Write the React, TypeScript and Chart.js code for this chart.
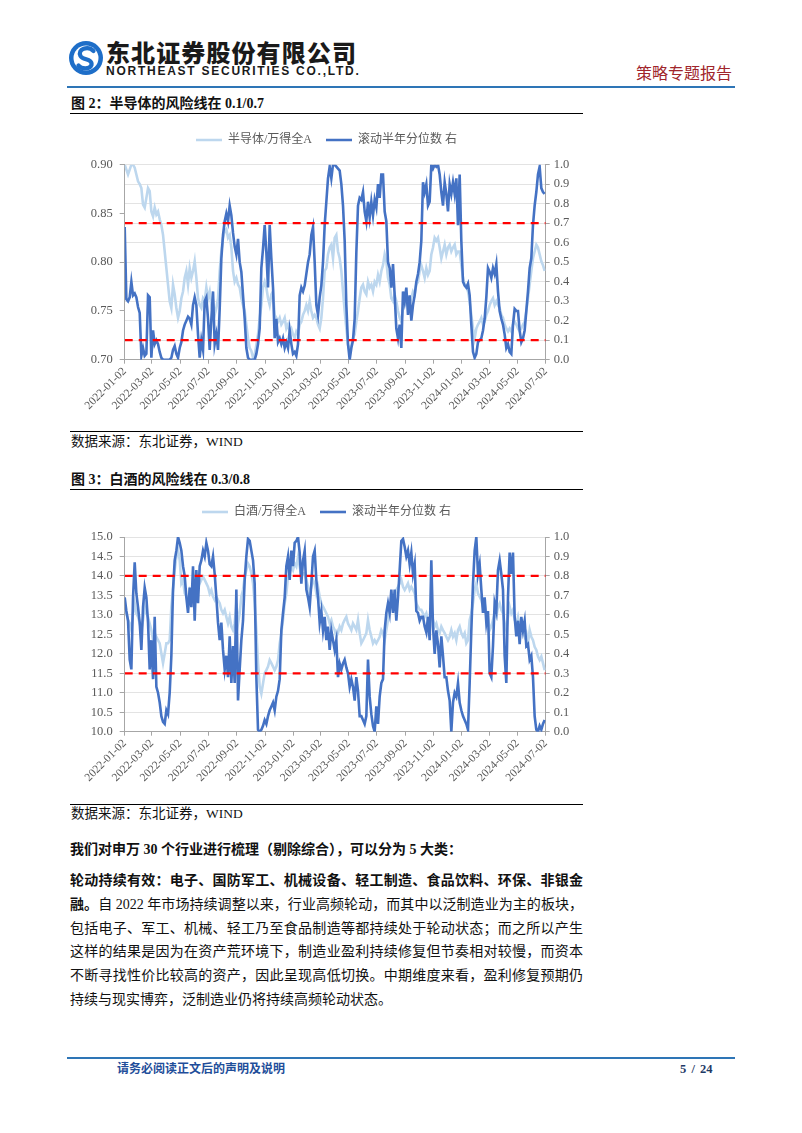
import React, { useEffect, useRef } from 'react';
import { Chart, registerables } from 'chart.js';

Chart.register(...registerables);

// ---------- data ----------
const AXIS_START = '2022-01-02';
const AXIS_END = '2024-07-02';
const TICK_DATES = [
  '2022-01-02', '2022-03-02', '2022-05-02', '2022-07-02', '2022-09-02', '2022-11-02',
  '2023-01-02', '2023-03-02', '2023-05-02', '2023-07-02', '2023-09-02', '2023-11-02',
  '2024-01-02', '2024-03-02', '2024-05-02', '2024-07-02',
];
// one reading every ~3.61 calendar days, starting at the first trading day
const SAMPLE_STEP_DAYS = 3.61;

const SEMI_LABEL = '半导体/万得全A';
const LIQUOR_LABEL = '白酒/万得全A';
const PCT_LABEL = '滚动半年分位数 右';

const semiRatio = [
  0.90, 0.895, 0.89, 0.895, 0.90, 0.90, 0.897, 0.89, 0.883, 0.88,
  0.876, 0.859, 0.856, 0.866, 0.876, 0.873, 0.852, 0.847, 0.856, 0.849,
  0.852, 0.844, 0.838, 0.828, 0.811, 0.794, 0.777, 0.760, 0.753, 0.777,
  0.767, 0.753, 0.743, 0.750, 0.763, 0.770, 0.784, 0.791, 0.777, 0.794,
  0.784, 0.791, 0.801, 0.784, 0.763, 0.756, 0.753, 0.763, 0.760, 0.774,
  0.763, 0.770, 0.756, 0.760, 0.746, 0.753, 0.763, 0.791, 0.811, 0.825,
  0.832, 0.834, 0.825, 0.828, 0.815, 0.791, 0.780, 0.784, 0.777, 0.774,
  0.763, 0.756, 0.750, 0.736, 0.722, 0.712, 0.709, 0.702, 0.705, 0.715,
  0.726, 0.743, 0.756, 0.774, 0.780, 0.774, 0.763, 0.756, 0.767, 0.770,
  0.746, 0.743, 0.739, 0.743, 0.736, 0.739, 0.743, 0.732, 0.736, 0.729,
  0.732, 0.726, 0.722, 0.729, 0.726, 0.736, 0.739, 0.746, 0.750, 0.756,
  0.750, 0.760, 0.750, 0.743, 0.746, 0.743, 0.736, 0.732, 0.743, 0.763,
  0.791, 0.794, 0.808, 0.815, 0.818, 0.804, 0.825, 0.828, 0.811, 0.804,
  0.791, 0.770, 0.750, 0.732, 0.715, 0.709, 0.715, 0.722, 0.726, 0.739,
  0.750, 0.763, 0.774, 0.777, 0.770, 0.767, 0.780, 0.774, 0.777, 0.770,
  0.780, 0.777, 0.787, 0.780, 0.791, 0.797, 0.808, 0.801, 0.784, 0.777,
  0.763, 0.760, 0.767, 0.760, 0.750, 0.743, 0.739, 0.753, 0.756, 0.763,
  0.760, 0.756, 0.763, 0.770, 0.767, 0.777, 0.780, 0.791, 0.797, 0.791,
  0.784, 0.794, 0.787, 0.791, 0.808, 0.815, 0.825, 0.822, 0.825, 0.815,
  0.804, 0.811, 0.818, 0.808, 0.815, 0.818, 0.811, 0.815, 0.818, 0.808,
  0.811, 0.811, 0.797, 0.784, 0.777, 0.774, 0.770, 0.760, 0.746, 0.732,
  0.722, 0.732, 0.736, 0.739, 0.743, 0.736, 0.739, 0.746, 0.750, 0.756,
  0.760, 0.763, 0.756, 0.760, 0.756, 0.753, 0.746, 0.743, 0.736, 0.732,
  0.729, 0.732, 0.729, 0.736, 0.739, 0.736, 0.732, 0.729, 0.732, 0.736,
  0.739, 0.750, 0.763, 0.777, 0.791, 0.804, 0.811, 0.818, 0.815, 0.808,
  0.801, 0.797, 0.791,
];

const semiPct = [
  0.68, 0.31, 0.30, 0.32, 0.40, 0.33, 0.34, 0.32, 0.27, 0.24,
  0.02, 0.06, 0.02, 0.03, 0.33, 0.32, 0.01, 0.15, 0.08, 0.10,
  0.08, 0.04, 0.01, 0, 0, 0, 0, 0, 0.01, 0.05,
  0.07, 0.03, 0.01, 0.06, 0.09, 0.15, 0.18, 0.20, 0.22, 0.21,
  0.18, 0.28, 0.32, 0.28, 0.13, 0.01, 0.10, 0.05, 0.30, 0.32,
  0.21, 0.05, 0.21, 0.35, 0.08, 0.13, 0.05, 0.26, 0.52, 0.64,
  0.71, 0.75, 0.71, 0.79, 0.74, 0.65, 0.58, 0.54, 0.62, 0.50,
  0.45, 0.33, 0.21, 0.06, 0.01, 0, 0, 0, 0, 0.03,
  0.08, 0.16, 0.47, 0.57, 0.69, 0.55, 0.37, 0.69, 0.52, 0.37,
  0.11, 0.21, 0.09, 0.11, 0.08, 0.11, 0.06, 0.09, 0.06, 0.15,
  0.08, 0.03, 0.04, 0.02, 0.08, 0.33, 0.37, 0.35, 0.38, 0.44,
  0.50, 0.54, 0.64, 0.68, 0.50, 0.28, 0.23, 0.32, 0.38, 0.50,
  0.69, 0.81, 0.93, 0.99, 0.93, 1.0, 1.0, 0.99, 0.98, 0.97,
  0.90, 0.79, 0.61, 0.28, 0.08, 0, 0.06, 0.10, 0.21, 0.55,
  0.79, 0.83, 0.82, 0.86, 0.76, 0.71, 0.81, 0.73, 0.81, 0.74,
  0.82, 0.78, 0.90, 0.83, 0.95, 0.95, 0.76, 0.71, 0.50, 0.47,
  0.37, 0.49, 0.33, 0.16, 0.11, 0.18, 0.06, 0.35, 0.30, 0.37,
  0.23, 0.33, 0.20, 0.28, 0.33, 0.40, 0.44, 0.50, 0.61, 0.91,
  0.86, 0.90, 0.79, 0.81, 1.0, 0.98, 1.0, 0.99, 1.0, 0.95,
  0.86, 0.79, 0.91, 0.85, 0.76, 0.90, 0.85, 0.91, 0.85, 0.93,
  0.69, 0.95, 0.61, 0.40, 0.38, 0.37, 0.39, 0.33, 0.18, 0.04,
  0.01, 0.03, 0.09, 0.10, 0.11, 0.15, 0.21, 0.32, 0.47, 0.45,
  0.42, 0.47, 0.44, 0.49, 0.35, 0.25, 0.21, 0.18, 0.13, 0.06,
  0.08, 0.04, 0.03, 0.18, 0.26, 0.25, 0.25, 0.15, 0.09, 0.11,
  0.15, 0.25, 0.35, 0.47, 0.52, 0.69, 0.79, 0.86, 0.95, 0.99,
  0.88, 0.86, 0.85,
];

const liquorRatio = [
  13.13, 13.04, 12.87, 12.78, 12.61, 13.04, 13.30, 13.04, 12.95, 12.78,
  12.61, 12.87, 13.21, 13.04, 12.95, 12.78, 12.61, 12.35, 12.53, 12.44,
  12.35, 12.27, 12.01, 11.76, 12.01, 12.27, 12.27, 12.35, 13.21, 13.64,
  14.15, 14.49, 14.67, 14.41, 13.81, 13.90, 13.55, 13.47, 13.30, 13.64,
  13.55, 13.72, 13.47, 13.64, 13.72, 13.81, 13.90, 13.98, 13.90, 13.81,
  13.72, 13.55, 13.64, 13.47, 13.38, 13.47, 13.38, 13.30, 13.13, 13.04,
  13.13, 12.95, 12.78, 12.95, 12.70, 12.61, 12.78, 13.30, 12.78, 13.04,
  13.47, 13.64, 13.98, 14.15, 14.32, 14.24, 14.07, 13.81, 13.30, 12.61,
  11.76, 11.16, 10.98, 11.24, 11.50, 11.58, 11.67, 11.84, 11.76, 11.67,
  11.58, 11.67, 11.84, 12.27, 12.53, 12.87, 13.30, 13.55, 13.98, 14.07,
  14.24, 14.15, 14.32, 14.24, 14.49, 14.24, 13.98, 14.07, 14.07, 13.90,
  13.72, 13.55, 13.72, 13.90, 13.81, 13.55, 13.72, 13.47, 13.30, 13.21,
  13.13, 13.04, 12.95, 12.78, 12.87, 12.70, 12.61, 12.44, 12.53, 12.70,
  12.61, 12.78, 12.87, 12.95, 12.78, 12.70, 12.61, 12.78, 12.70, 12.61,
  12.87, 12.53, 12.27, 12.35, 12.44, 12.53, 12.87, 12.61, 12.44, 12.27,
  12.35, 12.27, 12.35, 12.44, 12.61, 12.53, 12.35, 12.61, 12.87, 13.21,
  13.30, 13.38, 13.47, 13.64, 13.72, 13.81, 13.90, 13.72, 13.64, 13.72,
  13.81, 13.64, 13.72, 13.64, 13.55, 13.30, 13.21, 13.13, 13.13, 13.04,
  12.95, 13.04, 12.87, 12.78, 13.04, 12.87, 12.70, 12.78, 12.61, 12.53,
  12.70, 12.61, 12.53, 12.44, 12.35, 12.44, 12.61, 12.44, 12.53, 12.35,
  12.61, 12.70, 12.53, 12.44, 12.53, 12.27, 12.35, 12.87, 13.04, 13.30,
  13.64, 13.81, 13.55, 13.47, 13.38, 13.21, 13.30, 13.04, 12.95, 12.61,
  12.70, 12.87, 13.04, 12.95, 13.21, 13.30, 13.13, 13.04, 12.78, 12.61,
  12.95, 13.21, 13.04, 13.13, 12.87, 12.78, 12.95, 12.70, 12.78, 12.61,
  12.44, 12.53, 12.27, 12.61, 12.44, 12.35, 12.18, 12.10, 11.93, 11.84,
  11.93, 11.76, 11.58,
];

const liquorPct = [
  0.69, 0.62, 0.57, 0.37, 0.32, 0.69, 0.87, 0.71, 0.64, 0.56,
  0.42, 0.64, 0.74, 0.69, 0.56, 0.32, 0.47, 0.27, 0.59, 0.23,
  0.20, 0.15, 0.08, 0.05, 0.04, 0.11, 0.09, 0.20, 0.39, 0.73,
  0.88, 0.93, 1.0, 0.97, 0.93, 0.85, 0.80, 0.69, 0.61, 0.74,
  0.64, 0.85, 0.57, 0.83, 0.66, 0.85, 0.88, 0.93, 0.90, 0.97,
  0.93, 0.86, 0.85, 0.90, 0.81, 0.69, 0.56, 0.47, 0.56, 0.42,
  0.32, 0.39, 0.28, 0.49, 0.25, 0.44, 0.25, 0.73, 0.16, 0.32,
  0.47, 0.57, 0.78, 0.90, 0.99, 0.98, 0.93, 0.88, 0.76, 0.28,
  0.01, 0, 0.01, 0.03, 0.06, 0.04, 0.08, 0.11, 0.13, 0.15,
  0.11, 0.18, 0.21, 0.27, 0.52, 0.61, 0.69, 0.85, 0.90, 0.78,
  0.93, 0.85, 0.97, 0.98, 1.0, 0.92, 0.76, 0.88, 0.93, 0.73,
  0.69, 0.64, 0.76, 0.90, 0.93, 0.78, 0.69, 0.56, 0.62, 0.52,
  0.59, 0.47, 0.54, 0.42, 0.52, 0.47, 0.42, 0.47, 0.28, 0.35,
  0.32, 0.35, 0.37, 0.33, 0.30, 0.23, 0.27, 0.23, 0.16, 0.28,
  0.21, 0.08, 0.08, 0.06, 0.04, 0.08, 0.37, 0.18, 0.09, 0.03,
  0, 0.13, 0.04, 0.18, 0.25, 0.27, 0.52, 0.61, 0.66, 0.61,
  0.73, 0.61, 0.73, 0.57, 0.69, 0.83, 0.98, 0.99, 0.95, 0.90,
  0.93, 0.86, 0.92, 0.81, 0.86, 0.62, 0.61, 0.57, 0.59, 0.59,
  0.54, 0.51, 0.59, 0.47, 0.88, 0.54, 0.40, 0.52, 0.45, 0.33,
  0.49, 0.39, 0.28, 0.28, 0.21, 0.16, 0, 0.15, 0.20, 0.18,
  0.25, 0.15, 0.11, 0.08, 0.06, 0.04, 0.01, 0.25, 0.52, 0.76,
  0.93, 1.0, 0.81, 0.86, 0.73, 0.61, 0.69, 0.56, 0.62, 0.30,
  0.28, 0.44, 0.66, 0.62, 0.83, 0.88, 0.81, 0.73, 0.39, 0.25,
  0.69, 0.92, 0.81, 0.92, 0.59, 0.49, 0.57, 0.45, 0.59, 0.52,
  0.57, 0.44, 0.45, 0.37, 0.39, 0.28, 0.08, 0.01, 0, 0.03,
  0.01, 0.04, 0.06,
];

const SEMI_RISK_LINES = [0.1, 0.7];
const LIQUOR_RISK_LINES = [0.3, 0.8];

// ---------- helpers ----------
const SERIF = '"Liberation Serif", "Noto Sans CJK SC", serif';
const AXIS_GRAY = '#A6A6A6';
const TEXT_GRAY = '#595959';

function dayOffset(date: string): number {
  const [y, m, d] = date.split('-').map(Number);
  const [y0, m0, d0] = AXIS_START.split('-').map(Number);
  return Math.round((Date.UTC(y, m - 1, d) - Date.UTC(y0, m0 - 1, d0)) / 86400000);
}

const TICK_DAYS = TICK_DATES.map(dayOffset);
const AXIS_DAYS = dayOffset(AXIS_END);

interface ChartSpec {
  ratio: number[];
  pct: number[];
  ratioLabel: string;
  risk: number[];
  leftMin: number;
  leftMax: number;
  leftStep: number;
  leftDecimals: number;
  legendExtra: number;
}

function buildConfig(spec: ChartSpec): any {
  const toPoints = (arr: number[]) => arr.map((y, i) => ({ x: i * SAMPLE_STEP_DAYS, y }));
  const riskSets = spec.risk.map((v) => ({
    label: '_risk',
    data: [{ x: 0, y: v }, { x: AXIS_DAYS, y: v }],
    yAxisID: 'y1',
    borderColor: '#FF0000',
    borderWidth: 2.2,
    borderDash: [8, 6],
    pointRadius: 0,
    order: 1,
  }));
  return {
    type: 'line',
    data: {
      datasets: [
        {
          label: spec.ratioLabel,
          data: toPoints(spec.ratio),
          yAxisID: 'y',
          borderColor: '#BDD7EE',
          backgroundColor: '#BDD7EE',
          borderWidth: 2.6,
          pointRadius: 0,
          tension: 0,
          order: 3,
        },
        {
          label: PCT_LABEL,
          data: toPoints(spec.pct),
          yAxisID: 'y1',
          borderColor: '#4472C4',
          backgroundColor: '#4472C4',
          borderWidth: 2.6,
          pointRadius: 0,
          tension: 0,
          order: 2,
        },
        ...riskSets,
      ],
    },
    options: {
      responsive: false,
      maintainAspectRatio: false,
      animation: false,
      devicePixelRatio: 1,
      layout: { padding: 0 },
      font: { family: SERIF },
      plugins: {
        tooltip: { enabled: false },
        legend: {
          display: true,
          position: 'top',
          labels: {
            usePointStyle: true,
            pointStyle: 'line',
            pointStyleWidth: 26,
            padding: 14,
            color: TEXT_GRAY,
            font: { family: SERIF, size: 12 },
            filter: (item: any) => item.datasetIndex < 2,
            sort: (a: any, b: any) => a.datasetIndex - b.datasetIndex,
          },
        },
      },
      scales: {
        x: {
          type: 'linear',
          min: 0,
          max: AXIS_DAYS,
          afterBuildTicks: (axis: any) => {
            axis.ticks = TICK_DAYS.map((v) => ({ value: v }));
          },
          afterFit: (axis: any) => {
            axis.height = 68.3;
          },
          ticks: {
            autoSkip: false,
            minRotation: 45,
            maxRotation: 45,
            padding: 1,
            color: TEXT_GRAY,
            font: { family: SERIF, size: 11.5 },
            callback: (v: number) => {
              const idx = TICK_DAYS.indexOf(Math.round(v));
              return idx >= 0 ? TICK_DATES[idx] : '';
            },
          },
          grid: { drawOnChartArea: false, drawTicks: true, tickLength: 4, tickColor: AXIS_GRAY },
          border: { display: true, color: AXIS_GRAY, width: 1 },
        },
        y: {
          position: 'left',
          min: spec.leftMin,
          max: spec.leftMax,
          afterFit: (axis: any) => {
            axis.width = 64.7;
          },
          ticks: {
            stepSize: spec.leftStep,
            padding: 7,
            color: TEXT_GRAY,
            font: { family: SERIF, size: 12.5 },
            callback: (v: number) => Number(v).toFixed(spec.leftDecimals),
          },
          grid: { drawOnChartArea: false, drawTicks: true, tickLength: 5, tickColor: AXIS_GRAY },
          border: { display: true, color: AXIS_GRAY, width: 1 },
        },
        y1: {
          position: 'right',
          min: 0,
          max: 1,
          afterFit: (axis: any) => {
            axis.width = 47.3;
          },
          ticks: {
            stepSize: 0.1,
            padding: 4,
            color: TEXT_GRAY,
            font: { family: SERIF, size: 12.5 },
            callback: (v: number) => Number(v).toFixed(1),
          },
          grid: {
            drawOnChartArea: true,
            color: '#E3E3E3',
            lineWidth: 1,
            drawTicks: true,
            tickLength: 4,
            tickColor: AXIS_GRAY,
          },
          border: { display: true, color: AXIS_GRAY, width: 1 },
        },
      },
    },
    plugins: [
      {
        id: 'legendGap',
        beforeInit(chart: any) {
          const legend = chart.legend;
          if (!legend || legend.__gapPatched) return;
          const origFit = legend.fit;
          legend.fit = function () {
            origFit.call(this);
            this.height += spec.legendExtra;
          };
          legend.__gapPatched = true;
        },
      },
    ],
  };
}

function DualAxisChart(props: { spec: ChartSpec; left: number; top: number; width: number; height: number }) {
  const ref = useRef<HTMLCanvasElement | null>(null);
  useEffect(() => {
    if (!ref.current) return;
    const chart = new Chart(ref.current, buildConfig(props.spec));
    return () => chart.destroy();
  }, []);
  return (
    <canvas
      ref={ref}
      width={props.width}
      height={props.height}
      style={{ position: 'absolute', left: props.left, top: props.top, width: props.width, height: props.height }}
    />
  );
}

const semiSpec: ChartSpec = {
  ratio: semiRatio,
  pct: semiPct,
  ratioLabel: SEMI_LABEL,
  risk: SEMI_RISK_LINES,
  leftMin: 0.7,
  leftMax: 0.9,
  leftStep: 0.05,
  leftDecimals: 2,
  legendExtra: 8.7,
};

const liquorSpec: ChartSpec = {
  ratio: liquorRatio,
  pct: liquorPct,
  ratioLabel: LIQUOR_LABEL,
  risk: LIQUOR_RISK_LINES,
  leftMin: 10,
  leftMax: 15,
  leftStep: 0.5,
  leftDecimals: 1,
  legendExtra: 9,
};

// ---------- page ----------
const abs = (left: number, top: number, extra: React.CSSProperties = {}): React.CSSProperties => ({
  position: 'absolute',
  left,
  top,
  whiteSpace: 'nowrap',
  ...extra,
});

const bodyFont: React.CSSProperties = { fontFamily: SERIF, fontSize: 14, color: '#111', lineHeight: '18px' };

const PARA_LINES: { bold?: string; text?: string; last?: boolean }[] = [
  { bold: '轮动持续有效：电子、国防军工、机械设备、轻工制造、食品饮料、环保、非银金' },
  { bold: '融。', text: '自 2022 年市场持续调整以来，行业高频轮动，而其中以泛制造业为主的板块，' },
  { text: '包括电子、军工、机械、轻工乃至食品制造等都持续处于轮动状态；而之所以产生' },
  { text: '这样的结果是因为在资产荒环境下，制造业盈利持续修复但节奏相对较慢，而资本' },
  { text: '不断寻找性价比较高的资产，因此呈现高低切换。中期维度来看，盈利修复预期仍' },
  { text: '持续与现实博弈，泛制造业仍将持续高频轮动状态。', last: true },
];

export default function App() {
  return (
    <div style={{ position: 'absolute', left: 0, top: 0, width: 802, height: 1133, background: '#fff', overflow: 'hidden' }}>
      {/* header */}
      <svg style={{ position: 'absolute', left: 68, top: 40 }} width="36" height="36" viewBox="0 0 36 36">
        <circle cx="18" cy="18" r="17" fill="#1E6EC8" />
        <circle cx="18" cy="18" r="12.5" fill="#ffffff" />
        <path d="M25.5 11 C 20 5.5, 9 9, 12.5 16 C 15 20.5, 24.5 18.5, 23.5 25 C 21.5 30, 13 29, 10.5 25.5" stroke="#1E6EC8" strokeWidth="4.2" fill="none" strokeLinecap="round" />
      </svg>
      <div style={abs(106, 38, { fontFamily: '"Noto Sans CJK SC", sans-serif', fontWeight: 900, fontSize: 24, lineHeight: '28px', letterSpacing: 1.1, color: '#1a1a1a' })}>
        东北证券股份有限公司
      </div>
      <div style={abs(106, 64, { fontFamily: '"Liberation Sans", Arial, sans-serif', fontWeight: 700, fontSize: 12, lineHeight: '14px', letterSpacing: 1.75, color: '#1a1a1a' })}>
        NORTHEAST SECURITIES CO.,LTD.
      </div>
      <div style={abs(636, 62, { fontFamily: '"Noto Sans CJK SC", sans-serif', fontSize: 16, lineHeight: '20px', color: '#A0252B' })}>
        策略专题报告
      </div>
      <div style={{ position: 'absolute', left: 67, top: 86, width: 668, height: 1.5, background: '#2E75B6' }} />

      {/* figure 2 */}
      <div style={abs(71, 95, { ...bodyFont, fontWeight: 700 })}>图 2：半导体的风险线在 0.1/0.7</div>
      <div style={{ position: 'absolute', left: 70, top: 113, width: 513, height: 1, background: '#000' }} />
      <DualAxisChart spec={semiSpec} left={60} top={120} width={533} height={308} />
      <div style={{ position: 'absolute', left: 70, top: 431, width: 513, height: 1, background: '#000' }} />
      <div style={abs(71, 433, { ...bodyFont, fontSize: 13.5 })}>数据来源：东北证券，WIND</div>

      {/* figure 3 */}
      <div style={abs(71, 471, { ...bodyFont, fontWeight: 700 })}>图 3：白酒的风险线在 0.3/0.8</div>
      <div style={{ position: 'absolute', left: 70, top: 489, width: 513, height: 1, background: '#000' }} />
      <DualAxisChart spec={liquorSpec} left={60} top={492} width={533} height={308} />
      <div style={{ position: 'absolute', left: 70, top: 804, width: 513, height: 1, background: '#000' }} />
      <div style={abs(71, 805, { ...bodyFont, fontSize: 13.5 })}>数据来源：东北证券，WIND</div>

      {/* text */}
      <div style={abs(70, 841, { ...bodyFont, fontWeight: 700 })}>
        我们对申万 30 个行业进行梳理（剔除综合），可以分为 5 大类：
      </div>
      {PARA_LINES.map((ln, i) => (
        <div
          key={i}
          style={{
            ...bodyFont,
            position: 'absolute',
            left: 70,
            top: 872 + i * 23.8,
            width: 513,
            textAlign: ln.last ? 'left' : 'justify',
            textAlignLast: ln.last ? 'left' : 'justify',
            whiteSpace: 'nowrap',
          }}
        >
          {ln.bold ? <b>{ln.bold}</b> : null}
          {ln.text ?? null}
        </div>
      ))}

      {/* footer */}
      <div style={{ position: 'absolute', left: 67, top: 1057, width: 668, height: 1.5, background: '#2E75B6' }} />
      <div style={abs(117, 1061, { fontFamily: SERIF, fontWeight: 700, fontSize: 12, lineHeight: '16px', color: '#1F4E9A' })}>
        请务必阅读正文后的声明及说明
      </div>
      <div style={abs(680, 1061, { fontFamily: SERIF, fontWeight: 700, fontSize: 12.5, lineHeight: '16px', color: '#1F3A66', wordSpacing: 2 })}>
        5 / 24
      </div>
    </div>
  );
}
